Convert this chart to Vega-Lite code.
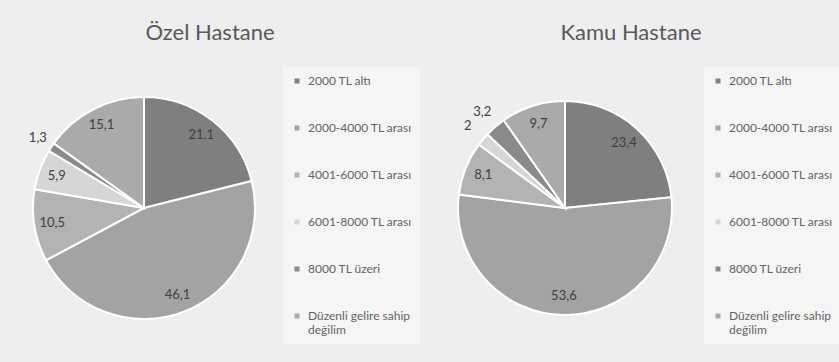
{
  "$schema": "https://vega.github.io/schema/vega-lite/v6.json",
  "background": "#eeeeee",
  "padding": {"left": 0, "top": 22, "right": 0, "bottom": 0},
  "datasets": {
    "ozel": [
      {"k": 1, "cat": "2000 TL altı", "v": 21.1},
      {"k": 2, "cat": "2000-4000 TL arası", "v": 46.1},
      {"k": 3, "cat": "4001-6000 TL arası", "v": 10.5},
      {"k": 4, "cat": "6001-8000 TL arası", "v": 5.9},
      {"k": 5, "cat": "8000 TL üzeri", "v": 1.3},
      {"k": 6, "cat": "Düzenli gelire sahip değilim", "v": 15.1}
    ],
    "kamu": [
      {"k": 1, "cat": "2000 TL altı", "v": 23.4},
      {"k": 2, "cat": "2000-4000 TL arası", "v": 53.6},
      {"k": 3, "cat": "4001-6000 TL arası", "v": 8.1},
      {"k": 4, "cat": "6001-8000 TL arası", "v": 2},
      {"k": 5, "cat": "8000 TL üzeri", "v": 3.2},
      {"k": 6, "cat": "Düzenli gelire sahip değilim", "v": 9.7}
    ]
  },
  "spacing": 1,
  "resolve": {"scale": {"color": "independent"}, "legend": {"color": "independent"}},
  "hconcat": [
    {
      "width": 288,
      "height": 310,
      "title": {"text": "Özel Hastane", "frame": "bounds"},
      "data": {"name": "ozel"},
      "encoding": {
        "theta": {"field": "v", "type": "quantitative", "stack": true},
        "order": {"field": "k", "type": "quantitative"},
        "color": {
          "field": "cat", "type": "nominal",
          "scale": {
            "domain": ["2000 TL altı", "2000-4000 TL arası", "4001-6000 TL arası", "6001-8000 TL arası", "8000 TL üzeri", "Düzenli gelire sahip değilim"],
            "range": ["#7f7f7f", "#a3a3a3", "#b3b3b3", "#d6d6d6", "#8a8a8a", "#aaaaaa"]
          },
          "legend": {
            "orient": "none", "legendX": 283, "legendY": 14, "title": null,
            "symbolType": "square", "symbolSize": 25, "symbolStrokeWidth": 0,
            "labelFontSize": 12, "labelColor": "#646464", "labelFont": "Lato", "labelOffset": 5,
            "rowPadding": 35, "padding": 8, "fillColor": "#f5f5f5",
            "labelLimit": 200,
            "labelExpr": "datum.label == 'Düzenli gelire sahip değilim' ? ['Düzenli gelire sahip', 'değilim'] : datum.label"
          }
        }
      },
      "layer": [
        {"mark": {"type": "arc", "radius": 111, "stroke": "#ffffff", "strokeWidth": 2}},
        {
          "mark": {"type": "text", "radius": {"expr": "datum.v < 5 ? 127 : 93"}, "fontSize": 13, "font": "Lato", "fill": "#404040"},
          "encoding": {"text": {"field": "v", "type": "quantitative", "format": ".1~f"}}
        }
      ]
    },
    {
      "width": 288,
      "height": 310,
      "title": {"text": "Kamu Hastane", "frame": "bounds"},
      "data": {"name": "kamu"},
      "encoding": {
        "theta": {"field": "v", "type": "quantitative", "stack": true},
        "order": {"field": "k", "type": "quantitative"},
        "color": {
          "field": "cat", "type": "nominal",
          "scale": {
            "domain": ["2000 TL altı", "2000-4000 TL arası", "4001-6000 TL arası", "6001-8000 TL arası", "8000 TL üzeri", "Düzenli gelire sahip değilim"],
            "range": ["#7f7f7f", "#a3a3a3", "#b3b3b3", "#d6d6d6", "#8a8a8a", "#aaaaaa"]
          },
          "legend": {
            "orient": "none", "legendX": 283, "legendY": 14, "title": null,
            "symbolType": "square", "symbolSize": 25, "symbolStrokeWidth": 0,
            "labelFontSize": 12, "labelColor": "#646464", "labelFont": "Lato", "labelOffset": 5,
            "rowPadding": 35, "padding": 8, "fillColor": "#f5f5f5",
            "labelLimit": 200,
            "labelExpr": "datum.label == 'Düzenli gelire sahip değilim' ? ['Düzenli gelire sahip', 'değilim'] : datum.label"
          }
        }
      },
      "layer": [
        {"mark": {"type": "arc", "radius": 107, "stroke": "#ffffff", "strokeWidth": 2}},
        {
          "mark": {"type": "text", "radius": {"expr": "datum.v < 5 ? 127 : 88"}, "fontSize": 13, "font": "Lato", "fill": "#404040"},
          "encoding": {"text": {"field": "v", "type": "quantitative", "format": ".1~f"}}
        }
      ]
    }
  ],
  "config": {
    "locale": {"number": {"decimal": ",", "thousands": ".", "grouping": [3], "currency": ["", " TL"]}},
    "view": {"stroke": null},
    "title": {"font": "Lato", "fontSize": 22, "fontWeight": "normal", "color": "#595959", "offset": 8, "anchor": "middle"}
  }
}
